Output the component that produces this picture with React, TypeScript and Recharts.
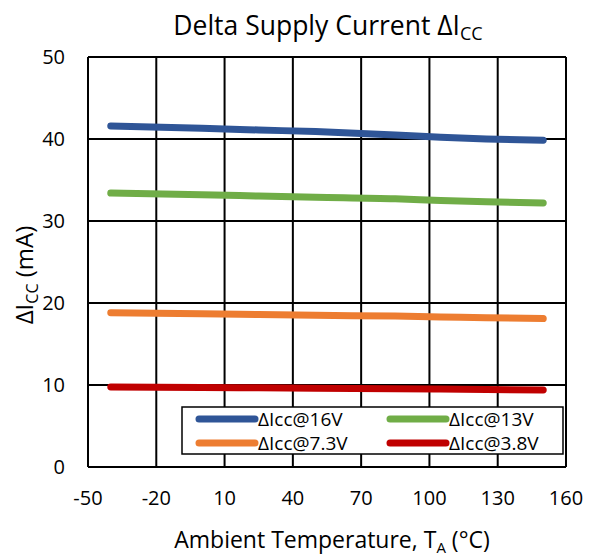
import { LineChart, Line, XAxis, YAxis, CartesianGrid, Label } from 'recharts'

const temps = [-40, 0, 25, 50, 85, 105, 125, 150]
const icc16 = [41.6, 41.3, 41.1, 40.9, 40.5, 40.2, 40.0, 39.85]
const icc13 = [33.4, 33.2, 33.05, 32.9, 32.7, 32.5, 32.35, 32.2]
const icc73 = [18.8, 18.7, 18.6, 18.5, 18.4, 18.3, 18.2, 18.1]
const icc38 = [9.75, 9.7, 9.65, 9.6, 9.55, 9.5, 9.45, 9.4]

const xTicks = [-50, -20, 10, 40, 70, 100, 130, 160]
const yTicks = [0, 10, 20, 30, 40, 50]

const seriesNames = ['ΔIcc@16V', 'ΔIcc@13V', 'ΔIcc@7.3V', 'ΔIcc@3.8V']
const seriesKeys = ['v16', 'v13', 'v73', 'v38']
const colors = ['#2F5597', '#70AD47', '#ED7D31', '#C00000']

const data = temps.map((t, i) => ({
  t,
  v16: icc16[i],
  v13: icc13[i],
  v73: icc73[i],
  v38: icc38[i]
}))

const FONT = '"Open Sans", sans-serif'

const XTitle = ({ viewBox }: any) => {
  const cx = viewBox.x + viewBox.width / 2 + 5
  return (
    <text x={cx} y={viewBox.y + 81} textAnchor="middle" fontFamily={FONT} fontSize={23} fill="#000">
      Ambient Temperature, T
      <tspan fontSize={15} dy={5}>A</tspan>
      <tspan dy={-5}> (°C)</tspan>
    </text>
  )
}

const YTitle = ({ viewBox }: any) => {
  const cy = viewBox.y + viewBox.height / 2 + 13
  return (
    <text
      x={33}
      y={cy}
      transform={`rotate(-90, 33, ${cy})`}
      textAnchor="middle"
      fontFamily={FONT}
      fontSize={24}
      fill="#000"
    >
      ΔI
      <tspan fontSize={16} dy={5}>CC</tspan>
      <tspan dy={-5}> (mA)</tspan>
    </text>
  )
}

// legend box sits inside the plot, bottom right
const legendCols = [199, 390]
const legendRows = [419, 443]

export default function App() {
  return (
    <div style={{ position: 'absolute', left: 0, top: 0, width: 597, height: 556, background: '#fff' }}>
      <LineChart
        width={597}
        height={556}
        data={data}
        margin={{ top: 57, right: 31, bottom: 0, left: 0 }}
      >
        <CartesianGrid stroke="#000" strokeWidth={2} />
        <XAxis
          dataKey="t"
          type="number"
          domain={[-50, 160]}
          ticks={xTicks}
          interval={0}
          height={89}
          axisLine={{ stroke: '#000', strokeWidth: 2 }}
          tickLine={false}
          tickSize={6}
          tickMargin={18}
          tick={{ fill: '#000', fontSize: 20, fontFamily: FONT }}
        >
          <Label content={XTitle} />
        </XAxis>
        <YAxis
          type="number"
          domain={[0, 50]}
          ticks={yTicks}
          interval={0}
          width={88}
          axisLine={{ stroke: '#000', strokeWidth: 2 }}
          tickLine={false}
          tickSize={6}
          tickMargin={17}
          tick={{ fill: '#000', fontSize: 20, fontFamily: FONT }}
        >
          <Label content={YTitle} />
        </YAxis>
        {seriesKeys.map((k, i) => (
          <Line
            key={k}
            dataKey={k}
            name={seriesNames[i]}
            stroke={colors[i]}
            strokeWidth={7}
            strokeLinecap="round"
            dot={false}
            type="monotone"
            isAnimationActive={false}
          />
        ))}
      </LineChart>
      <svg
        width={597}
        height={556}
        style={{ position: 'absolute', left: 0, top: 0, pointerEvents: 'none' }}
      >
        <text x={328} y={35} textAnchor="middle" fontFamily={FONT} fontSize={26.5} fill="#000">
          Delta Supply Current ΔI
          <tspan fontSize={18} dy={5}>CC</tspan>
        </text>
        <rect x={182} y={407} width={381} height={47} fill="#fff" stroke="#000" strokeWidth={1.5} />
        {seriesNames.map((name, i) => {
          const x = legendCols[i % 2]
          const y = legendRows[Math.floor(i / 2)]
          return (
            <g key={name}>
              <line x1={x} y1={y} x2={x + 56} y2={y} stroke={colors[i]} strokeWidth={7} strokeLinecap="round" />
              <text x={x + 59} y={y + 7} fontFamily={FONT} fontSize={19} fill="#000">
                {name}
              </text>
            </g>
          )
        })}
      </svg>
    </div>
  )
}
